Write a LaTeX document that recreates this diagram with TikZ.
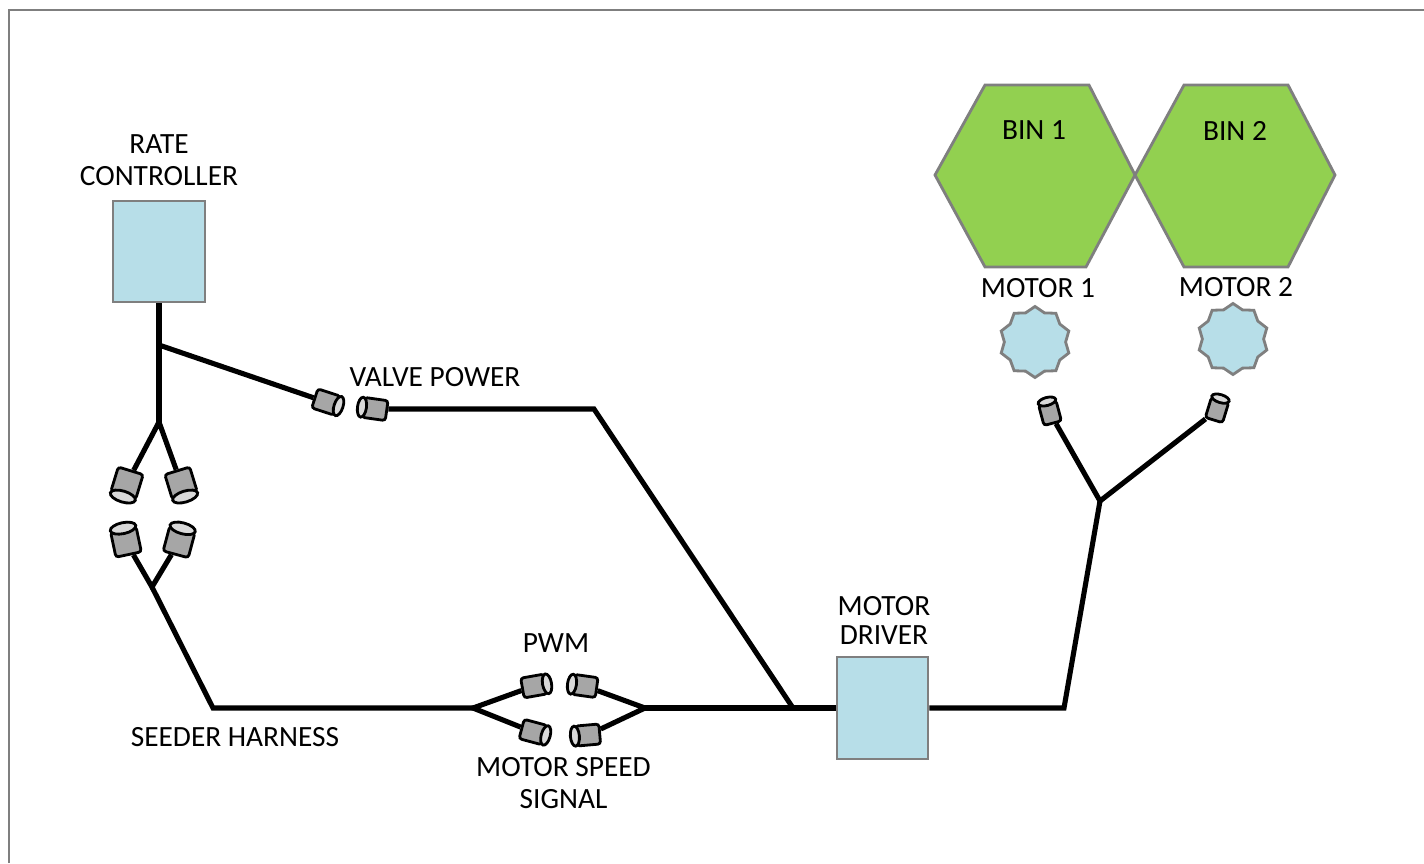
\documentclass[tikz,border=0pt]{standalone}
\usepackage{fontspec}
\setmainfont{Carlito}
\usetikzlibrary{shapes.geometric}
\definecolor{boxblue}{HTML}{B7DEE8}
\definecolor{binGreen}{HTML}{92D050}
\definecolor{edgegray}{HTML}{7F7F7F}
\definecolor{plugbody}{HTML}{A6A6A6}
\definecolor{plugend}{HTML}{D9D9D9}
\tikzset{
    wire/.style={line width=1.45pt, black, line join=miter},
    ctrlbox/.style={draw=edgegray, line width=0.8pt, fill=boxblue, rectangle, inner sep=0pt},
    binshape/.style={draw=edgegray, line width=0.8pt, fill=binGreen},
    motorstar/.style={draw=edgegray, line width=0.8pt, fill=boxblue, star, star points=10, star point ratio=1.16, minimum size=0.71cm, inner sep=0pt},
    plug/.style n args={4}{draw=black, line width=0.8pt, rectangle, inner sep=0pt, fill=plugbody, rounded corners=0.8pt,
        minimum width=#2cm, minimum height=#3cm, shift={(#1+180:#4/2 cm)}, rotate=#1},
    plugbig/.style={plug={#1}{0.255}{0.26}{0.055}},
    plugmid/.style={plug={#1}{0.235}{0.2}{0.045}},
    plugsmall/.style={plug={#1}{0.21}{0.18}{0.04}},
    plugcap/.style={draw=black, line width=0.8pt, fill=plugend},
    lbl/.style={font=\fontsize{8.35pt}{9.1pt}\selectfont, align=center, inner sep=0pt}
}
\begin{document}
\begin{tikzpicture}[x=0.01cm, y=-0.01cm]
    \useasboundingbox (0,0) rectangle (1424,863);
    % outer frame
    \draw[edgegray, line width=0.8pt] (9,863) -- (9,10) -- (1424,10);

    % bins
    \draw[binshape] (935,175) -- (985,85) -- (1089,85) -- (1135,175) -- (1086,267) -- (985,267) -- cycle;
    \draw[binshape] (1135,175) -- (1184,85) -- (1288,85) -- (1335,175) -- (1288,267) -- (1184,267) -- cycle;
    \node[lbl] (bin1) at (1034,130) {BIN 1};
    \node[lbl] (bin2) at (1235,131) {BIN 2};

    % motors
    \node[lbl] (motor1) at (1038,288) {MOTOR 1};
    \node[lbl] (motor2) at (1236,287) {MOTOR 2};
    \node[motorstar] (m1) at (1035,342) {};
    \node[motorstar] (m2) at (1233,339) {};

    % boxes
    \node[ctrlbox, minimum width=0.92cm, minimum height=1.01cm] (rate) at (159,251.5) {};
    \node[ctrlbox, minimum width=0.91cm, minimum height=1.02cm] (driver) at (882.5,708) {};
    \node[lbl] (ratelbl) at (159,160) {RATE\\CONTROLLER};
    \node[lbl] (driverlbl) at (884,620) {MOTOR\\[-0.03cm]DRIVER};

    % plugs
    \node[plugbig=253] (p1) at (127,483) {};
    \node[plugbig=287] (p2) at (181,483) {};
    \node[plugbig=102] (p3) at (126,542) {};
    \node[plugbig=75] (p4) at (179,542) {};
    \node[plugmid=-18] (v1) at (326,402) {};
    \node[plugmid=172] (v2) at (375,409) {};
    \node[plugmid=10] (s1) at (534,686) {};
    \node[plugmid=-15] (s2) at (533,732) {};
    \node[plugmid=172] (s3) at (585,686) {};
    \node[plugmid=185] (s4) at (588,735) {};
    \node[plugsmall=105] (c1) at (1050,413) {};
    \node[plugsmall=73] (c2) at (1217,410) {};

    % open ends of the plugs
    \foreach \pname/\pang in {p1/253,p2/287,p3/102,p4/75}{
        \draw[plugcap, rotate=\pang] (\pname.east) ellipse (0.055cm and 0.13cm);
    }
    \foreach \pname/\pang in {v1/-18,v2/172,s1/10,s2/-15,s3/172,s4/185}{
        \draw[plugcap, rotate=\pang] (\pname.east) ellipse (0.045cm and 0.1cm);
    }
    \foreach \pname/\pang in {c1/105,c2/73}{
        \draw[plugcap, rotate=\pang] (\pname.east) ellipse (0.04cm and 0.09cm);
    }

    % junction points
    \coordinate (ja) at (159,345);
    \coordinate (jb) at (159,422);
    \coordinate (jc) at (152,587);
    \coordinate (jd) at (213,708);
    \coordinate (je) at (473,708);
    \coordinate (jf) at (645,708);
    \coordinate (jg) at (594,409);
    \coordinate (jh) at (793,708);
    \coordinate (ji) at (1064,708);
    \coordinate (jj) at (1100,501);

    % wiring
    \draw[wire] (rate) -- (jb);
    \draw[wire] (ja) -- (v1);
    \draw[wire] (p1) -- (jb) -- (p2);
    \draw[wire] (p3) -- (jc) -- (p4);
    \draw[wire] (jc) -- (jd) -- (je);
    \draw[wire] (s1) -- (je) -- (s2);
    \draw[wire] (s3) -- (jf) -- (s4);
    \draw[wire] (jf) -- (driver);
    \draw[wire] (v2) -- (jg) -- (jh);
    \draw[wire] (driver) -- (ji) -- (jj);
    \draw[wire] (c1) -- (jj) -- (c2);

    % wire labels
    \node[lbl] (valve) at (435,377) {VALVE POWER};
    \node[lbl] (pwm) at (556,643) {PWM};
    \node[lbl] (seeder) at (235,737) {SEEDER HARNESS};
    \node[lbl] (speed) at (563.5,783.5) {MOTOR SPEED\\SIGNAL};
\end{tikzpicture}
\end{document}
